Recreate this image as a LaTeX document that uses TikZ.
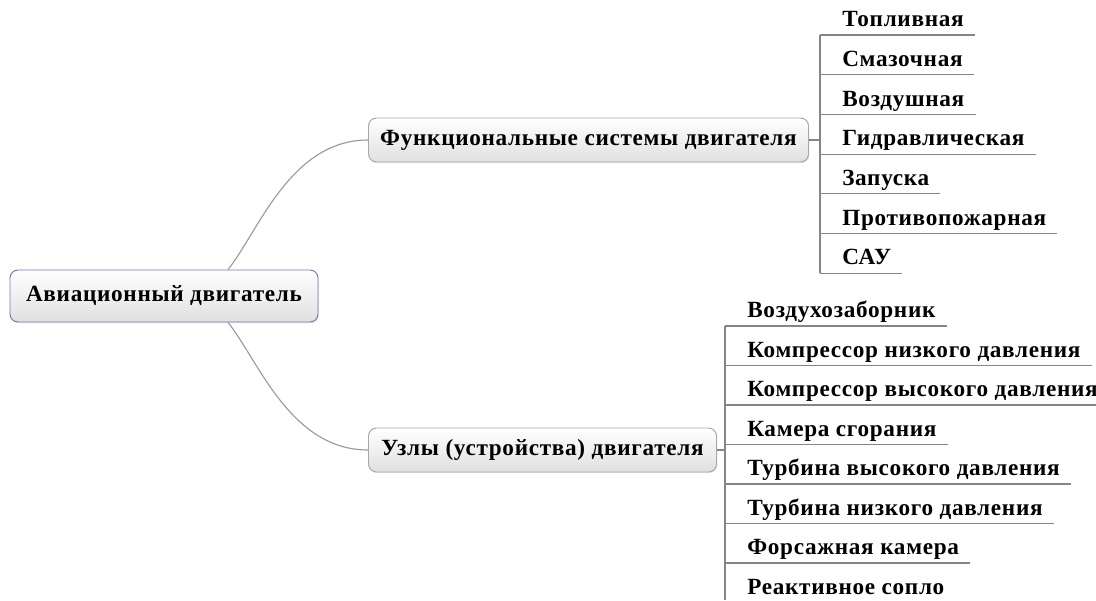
\documentclass[tikz,border=0pt]{standalone}
\usepackage{fontspec}
\setmainfont{Liberation Serif}
\newfontfamily\mapfont[LetterSpace=3]{Liberation Serif}
\usetikzlibrary{shadows}

\definecolor{rootline}{HTML}{8A6DBE}
\definecolor{boxline}{HTML}{A8A8A8}
\definecolor{boxfill}{HTML}{E0E0E0}
\definecolor{curvegray}{HTML}{9A9A9A}
\definecolor{twiggray}{HTML}{858585}

\begin{document}
\begin{tikzpicture}[
  every node/.style={font=\mapfont\bfseries\fontsize{16.5}{19}\selectfont},
  topic/.style={draw=boxline, line width=0.7pt, rounded corners=0.2cm,
    top color=white, bottom color=boxfill, minimum height=1.1cm,
    drop shadow={shadow xshift=0.6pt, shadow yshift=-0.8pt, opacity=0.2}},
  leaf/.style={anchor=south west, inner xsep=0.275cm, inner ysep=0pt,
    text height=0.45cm, text depth=0.2cm},
  branch/.style={draw=curvegray, line width=0.8pt},
  twig/.style={draw=twiggray, line width=0.8pt}]

\useasboundingbox (0,0) rectangle (27.4,15);

% ---- root ----
\node[topic, draw=rootline, minimum width=7.7cm, minimum height=1.3cm] (root) at (4.1,7.6) {Авиационный двигатель};

% ---- main branches ----
\node[topic, anchor=west, minimum width=11cm] (fun) at (9.2,11.5) {Функциональные системы двигателя};
\node[topic, anchor=west, minimum width=8.7cm] (uzl) at (9.2,3.75) {Узлы (устройства) двигателя};

\draw[branch] ([xshift=1.6cm]root.north) .. controls +(0.75,0.925) and +(-1.95,0) .. (fun.west);
\draw[branch] ([xshift=1.6cm]root.south) .. controls +(0.75,-0.925) and +(-1.95,0) .. (uzl.west);

% ---- systems ----
\coordinate (ftop) at (20.5,14.125);
\coordinate (fbot) at (20.5,8.175);
\draw[twig] (fun.east) -- (fun.east -| ftop);
\draw[twig] (ftop) -- (fbot);
\foreach \txt [count=\i from 0] in {Топливная, Смазочная, Воздушная, Гидравлическая, Запуска, Противопожарная, САУ} {
  \coordinate (fk\i) at (20.5,14.125-0.9925*\i);
  \node[leaf] (f\i) at ([xshift=0.275cm]fk\i) {\txt};
  \draw[twig] (fk\i) -- (f\i.south east);
}

% ---- units ----
\coordinate (utop) at (18.125,6.85);
\coordinate (ubot) at (18.125,0);
\draw[twig] (uzl.east) -- (uzl.east -| utop);
\draw[twig] (utop) -- (ubot);
\foreach \txt [count=\i from 0] in {Воздухозаборник, Компрессор низкого давления, Компрессор высокого давления, Камера сгорания, Турбина высокого давления, Турбина низкого давления, Форсажная камера, Реактивное сопло} {
  \coordinate (uk\i) at (18.125,6.85-0.9875*\i);
  \node[leaf] (u\i) at ([xshift=0.275cm]uk\i) {\txt};
  \draw[twig] (uk\i) -- (u\i.south east);
}

\end{tikzpicture}
\end{document}
